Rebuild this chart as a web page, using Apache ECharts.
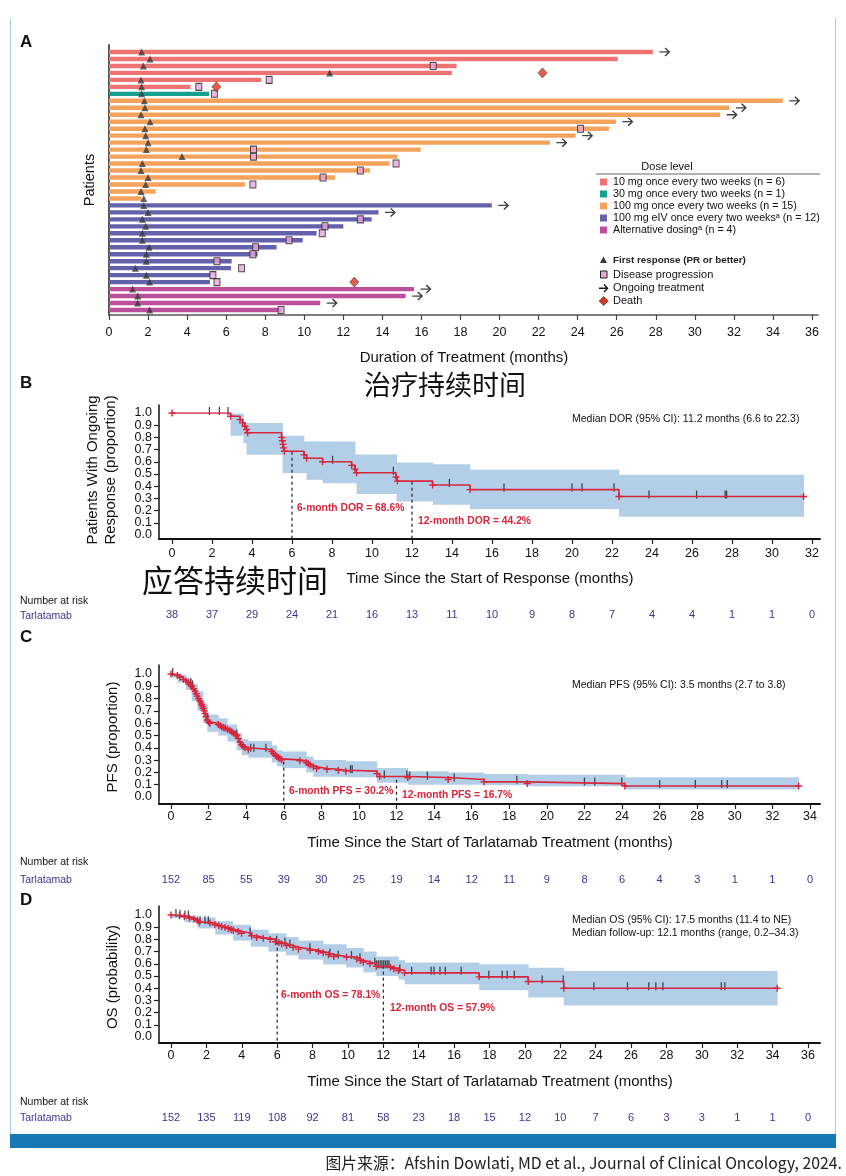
<!DOCTYPE html>
<html><head><meta charset="utf-8">
<script src="https://cdn.jsdelivr.net/npm/echarts@6/dist/echarts.min.js"></script>
<style>html,body{margin:0;padding:0;background:#fff}#c{width:846px;height:1176px}</style>
</head><body><div id="c"></div>
<script>
// ================= Panel A data =================
const doseLevels = ['10 mg once every two weeks (n = 6)','30 mg once every two weeks (n = 1)','100 mg once every two weeks (n = 15)','100 mg eIV once every two weeks\u1d43 (n = 12)','Alternative dosing\u1d43 (n = 4)'];
const doseColors = ['#ef7373','#16a08e','#f5a35c','#6461ab','#bb4f9c'];
const patientDose = [0,0,0,0,0,0,1,2,2,2,2,2,2,2,2,2,2,2,2,2,2,2,3,3,3,3,3,3,3,3,3,3,3,3,4,4,4,4];
const treatmentMonths = [27.85,26.05,17.8,17.56,7.8,4.17,5.12,34.5,31.77,31.3,25.96,25.6,23.9,22.58,15.96,14.78,14.37,13.36,11.57,6.96,2.39,1.64,19.6,13.8,13.45,12.0,10.63,9.92,8.58,7.61,6.28,6.25,5.22,5.17,15.62,15.19,10.82,8.84];
const firstResponseMonths = [1.67,2.1,1.76,11.3,1.64,1.67,1.67,1.81,1.84,1.64,2.1,1.84,1.88,2.0,1.91,3.74,1.71,1.64,2.0,1.88,1.64,1.78,1.78,2.0,1.71,1.88,1.71,1.71,2.05,1.91,1.91,1.35,1.91,2.08,1.21,1.47,1.47,2.08];
const progressionRows = [3,5,6,7,12,15,16,17,18,19,20,25,26,27,28,29,30,31,32,33,34,38];
const progressionMonths = [16.6,8.2,4.6,5.4,24.15,7.4,7.4,14.7,12.87,10.96,7.37,12.87,11.06,10.92,9.22,7.51,7.37,5.53,6.79,5.32,5.53,8.81];
const deathRows = [4,6,34];
const deathMonths = [22.2,5.5,12.56];
const ongoingRows = [1,8,9,10,11,13,14,23,24,35,36,37];

// ================= Panel B (DOR) =================
const dorT = [0,2.93,3.40,3.53,3.65,3.73,3.78,5.48,5.52,5.55,5.58,5.62,6.6,6.73,7.53,8.98,9.15,9.23,11.2,11.27,13.03,14.9,22.35,31.58];
const dorS = [1.0,0.973,0.946,0.919,0.892,0.865,0.838,0.80,0.772,0.743,0.714,0.686,0.657,0.629,0.60,0.571,0.54,0.51,0.476,0.442,0.41,0.372,0.315,0.315];
const dorCensor = [1.87,2.37,2.8,8.03,11.07,13.87,16.6,20.0,20.5,22.1,23.85,26.23,27.66,27.73];
const dorBandT  = [2.93,3.57,3.73,5.53,6.6,6.73,7.53,9.15,9.23,11.23,13.05,14.9,22.35,31.58];
const dorBandLo = [0.814,0.753,0.658,0.507,0.507,0.452,0.425,0.425,0.337,0.274,0.247,0.214,0.15,0.15];
const dorBandHi = [0.995,0.918,0.918,0.814,0.767,0.767,0.767,0.66,0.66,0.595,0.58,0.534,0.493,0.493];
const riskB = [38,37,29,24,21,16,13,11,10,9,8,7,4,4,1,1,0];

// ================= Panel C (PFS) =================
const pfsT = [0,0.34,0.48,0.66,0.8,0.92,1.02,1.1,1.2,1.28,1.34,1.40,1.47,1.54,1.6,1.63,1.68,1.72,1.77,1.81,1.86,1.93,2.0,2.07,2.52,2.61,2.7,2.8,2.88,3.0,3.14,3.23,3.32,3.42,3.5,3.58,3.67,3.76,3.85,3.94,4.11,5.36,5.45,5.55,5.63,5.72,5.8,5.9,6.86,7.2,7.3,7.4,7.57,7.75,8.3,8.9,9.3,10.95,11.1,12.6,14.75,16.65,18.95,24.15,33.4];
const pfsS = [1.0,0.987,0.974,0.955,0.942,0.93,0.915,0.9,0.88,0.86,0.84,0.82,0.80,0.78,0.765,0.75,0.735,0.72,0.70,0.68,0.655,0.625,0.61,0.60,0.59,0.58,0.57,0.565,0.56,0.55,0.54,0.53,0.52,0.51,0.50,0.475,0.445,0.425,0.41,0.40,0.385,0.37,0.355,0.34,0.33,0.32,0.31,0.302,0.295,0.28,0.27,0.26,0.245,0.232,0.225,0.218,0.21,0.19,0.167,0.158,0.142,0.123,0.109,0.09,0.09];
const pfsCensor = [0.09,1.05,1.15,1.95,3.5,4.24,4.41,5.05,9.55,9.64,11.35,12.55,12.7,13.64,15.07,18.4,22.0,22.55,23.99,26.0,27.9,29.3,29.6];
const pfsBandT  = [0,0.34,0.8,1.1,1.4,1.7,1.93,2.52,3.0,3.5,3.76,4.11,5.36,5.63,5.9,7.2,7.57,9.3,10.95,12.6,14.75,16.65,18.95,24.15,33.4];
const pfsBandLo = [0.97,0.93,0.87,0.78,0.70,0.60,0.53,0.50,0.45,0.38,0.34,0.32,0.28,0.25,0.235,0.20,0.165,0.16,0.115,0.10,0.10,0.095,0.088,0.06,0.06];
const pfsBandHi = [1.0,0.995,0.97,0.92,0.86,0.76,0.67,0.64,0.59,0.52,0.47,0.455,0.42,0.38,0.37,0.33,0.30,0.29,0.235,0.21,0.20,0.186,0.18,0.16,0.16];
const riskC = [152,85,55,39,30,25,19,14,12,11,9,8,6,4,3,1,1,0];

// ================= Panel D (OS) =================
const osT = [0,0.48,0.75,1.04,1.3,1.5,1.6,2.2,2.48,2.7,2.86,3.05,3.24,3.4,3.52,3.8,3.99,4.56,4.84,5.22,5.6,5.9,6.1,6.25,6.53,6.9,7.2,7.86,8.33,8.6,8.9,9.2,9.92,10.5,10.7,10.87,11.24,11.6,12.4,12.6,12.85,13.2,17.42,20.19,22.2,34.26];
const osS = [1.0,0.993,0.987,0.975,0.965,0.955,0.94,0.935,0.92,0.912,0.905,0.897,0.89,0.882,0.875,0.865,0.85,0.83,0.815,0.81,0.80,0.781,0.774,0.765,0.75,0.735,0.72,0.71,0.70,0.69,0.675,0.66,0.655,0.64,0.628,0.615,0.60,0.579,0.572,0.56,0.545,0.526,0.493,0.455,0.40,0.40];
const osCensor = [0.28,0.51,0.79,0.98,1.64,1.92,2.11,4.47,5.97,6.44,6.72,7.85,8.98,9.45,10.2,10.68,11.52,11.62,11.72,11.82,11.92,12.02,12.12,12.22,12.32,12.93,13.6,14.7,14.86,15.2,15.5,16.4,17.96,18.72,19.0,19.4,20.98,22.17,23.9,25.8,27.0,27.4,27.8,31.1,31.3];
const osBandT  = [0,0.75,1.5,2.5,3.5,4.5,5.5,6.5,7.2,8.6,9.9,10.87,11.6,12.85,13.2,17.42,20.19,22.2,34.26];
const osBandLo = [0.975,0.94,0.89,0.84,0.79,0.74,0.70,0.67,0.635,0.595,0.57,0.53,0.50,0.47,0.433,0.383,0.323,0.258,0.258];
const osBandHi = [1.0,0.995,0.98,0.95,0.92,0.88,0.85,0.82,0.79,0.76,0.73,0.70,0.66,0.63,0.61,0.597,0.567,0.54,0.54];
const riskD = [152,135,119,108,92,81,58,23,18,15,12,10,7,6,3,3,1,1,0];

// ================= rendering =================
const FONT = '"Liberation Sans", Arial, sans-serif';
const CJK = '"Noto Sans CJK SC", sans-serif';
const RED = '#d7263d';
const BAND = '#b3cfe7';
const RISK = '#3b3596';
const PLUS = 'path://M4,0H6V4H10V6H6V10H4V6H0V4H4Z';
const ARROW = 'path://M0,4.3L8.6,4.3L5.4,1.1L6.5,0L11.5,5L6.5,10L5.4,8.9L8.6,5.7L0,5.7Z';

function stepAt(T, S, t) { let v = S[0]; for (let i = 0; i < T.length; i++) if (T[i] <= t) v = S[i]; return v; }

const grids = [
  {left:109, right:28, top:45, bottom:861},     // 0 A frame
  {left:109, right:34, top:48.5, bottom:862.5}, // 1 A data
  {left:159, right:26, top:405, bottom:637},    // 2 B frame
  {left:172, right:34, top:413, bottom:641},    // 3 B data
  {left:159, right:26, top:665, bottom:372},    // 4 C frame
  {left:171, right:36, top:674, bottom:379},    // 5 C data
  {left:159, right:26, top:906, bottom:133},    // 6 D frame
  {left:171, right:38, top:915, bottom:139}     // 7 D data
];

function frameX(gi, color, w) { return {type:'value', gridIndex:gi, min:0, max:1, axisLine:{show:true, onZero:false, lineStyle:{color, width:w}}, axisTick:{show:false}, axisLabel:{show:false}, splitLine:{show:false}}; }
function frameY(gi, color, w) { return {type:'value', gridIndex:gi, min:0, max:1, position:'left', axisLine:{show:true, onZero:false, lineStyle:{color, width:w}}, axisTick:{show:false}, axisLabel:{show:false}, splitLine:{show:false}}; }
function dataX(gi, max, offset, margin) {
  return {type:'value', gridIndex:gi, min:0, max, interval:2, offset, position:'bottom',
    axisLine:{show:false, onZero:false}, axisTick:{show:true, length:5, lineStyle:{color:'#222', width:1.2}},
    axisLabel:{fontSize:12.5, color:'#111', margin, fontFamily:FONT, showMinLabel:true, showMaxLabel:true}, splitLine:{show:false}};
}
function riskX(gi, max, risk, margin) {
  return {type:'value', gridIndex:gi, min:0, max, interval:2, offset:70, position:'bottom',
    axisLine:{show:false, onZero:false}, axisTick:{show:false},
    axisLabel:{fontSize:11, color:RISK, margin, fontFamily:FONT, showMinLabel:true, showMaxLabel:true,
      formatter: v => { const r = risk[Math.round(v/2)]; return r === undefined ? '' : String(r); }},
    splitLine:{show:false}};
}
// inner y labels 0.1..0.9 with all ticks
function dataY(gi, offset) {
  return {type:'value', gridIndex:gi, min:0, max:1, interval:0.1, offset, position:'left',
    axisLine:{show:false, onZero:false}, axisTick:{show:true, length:5, lineStyle:{color:'#222', width:1.2}},
    axisLabel:{fontSize:12.5, color:'#111', margin:7, fontFamily:FONT, showMinLabel:false, showMaxLabel:false,
      formatter: v => v.toFixed(1)}, splitLine:{show:false}};
}
// end labels 0.0 and 1.0
function endY(gi, offset) {
  return {type:'value', gridIndex:gi, min:0, max:1, interval:1, offset, position:'left',
    axisLine:{show:false, onZero:false}, axisTick:{show:false},
    axisLabel:{fontSize:12.5, color:'#111', margin:7, fontFamily:FONT, showMinLabel:true, showMaxLabel:true,
      formatter: v => v.toFixed(1)}, splitLine:{show:false}};
}

const xAxes = [
  frameX(0,'#555',1.5),
  {type:'value', gridIndex:1, min:0, max:36, interval:2, offset:1.5, position:'bottom',
    axisLine:{show:false, onZero:false}, axisTick:{show:true, length:5, lineStyle:{color:'#444', width:1.2}},
    axisLabel:{fontSize:12.5, color:'#111', margin:11, fontFamily:FONT, showMinLabel:true, showMaxLabel:true}, splitLine:{show:false}},
  frameX(2,'#111',2), dataX(3,32,4,8),
  frameX(4,'#111',2), dataX(5,34,7,6),
  frameX(6,'#111',2), dataX(7,36,6,6),
  riskX(3,32,riskB,4.5), riskX(5,34,riskC,7), riskX(7,36,riskD,5)
];
const yAxes = [
  frameY(0,'#555',2),
  {type:'value', gridIndex:1, min:0.5, max:38.5, inverse:true, position:'left', axisLine:{show:false, onZero:false}, axisTick:{show:false}, axisLabel:{show:false}, splitLine:{show:false}},
  frameY(2,'#111',1.5), dataY(3,13),
  frameY(4,'#111',1.5), dataY(5,12),
  frameY(6,'#111',1.5), dataY(7,12),
  endY(3,13), endY(5,12), endY(7,12)
];

const series = [];
// ---- Panel A ----
series.push({type:'custom', xAxisIndex:1, yAxisIndex:1, z:1, silent:true,
  data: treatmentMonths.map((m,i)=>[m, i+1, patientDose[i]]),
  renderItem:(p, api) => {
    const a = api.coord([0, api.value(1)]), b = api.coord([api.value(0), api.value(1)]);
    return {type:'rect', shape:{x:a[0], y:a[1]-2.2, width:b[0]-a[0], height:4.4}, style:{fill:doseColors[api.value(2)]}};
  }});
series.push({type:'scatter', xAxisIndex:1, yAxisIndex:1, z:3, silent:true, symbol:'rect', symbolSize:[6,7],
  itemStyle:{color:'#e7a6d8', borderColor:'#222', borderWidth:1},
  data: progressionRows.map((r,i)=>[progressionMonths[i], r])});
series.push({type:'scatter', xAxisIndex:1, yAxisIndex:1, z:4, silent:true, symbol:'triangle', symbolSize:[7,7],
  itemStyle:{color:'#3a3a3a'}, data: firstResponseMonths.map((m,i)=>[m, i+1])});
series.push({type:'scatter', xAxisIndex:1, yAxisIndex:1, z:5, silent:true, symbol:'diamond', symbolSize:[9,10],
  itemStyle:{color:'#e2341d', borderColor:'#444', borderWidth:0.8}, data: deathRows.map((r,i)=>[deathMonths[i], r])});
series.push({type:'scatter', xAxisIndex:1, yAxisIndex:1, z:5, silent:true, symbol:ARROW, symbolSize:[11,9], symbolOffset:[12,0],
  itemStyle:{color:'#111'}, data: ongoingRows.map(r=>[treatmentMonths[r-1], r])});

// ---- KM panels ----
function km(ax, T, S, censor, bT, bLo, bHi) {
  series.push({type:'custom', xAxisIndex:ax, yAxisIndex:ax, z:1, silent:true,
    data: bT.slice(0,-1).map((t,i)=>[t, bLo[i], bHi[i], bT[i+1]]),
    renderItem:(p, api) => {
      const a = api.coord([api.value(0), api.value(2)]), b = api.coord([api.value(3), api.value(1)]);
      return {type:'rect', shape:{x:a[0], y:a[1], width:b[0]-a[0]+0.4, height:b[1]-a[1]}, style:{fill:BAND}};
    }});
  [6,12].forEach(m => {
    series.push({type:'line', xAxisIndex:ax, yAxisIndex:ax, z:2, silent:true, clip:false, symbol:'none',
      lineStyle:{color:'#222', width:1.2, type:[3,3]}, data:[[m,-0.03],[m, stepAt(T,S,m)]]});
  });
  series.push({type:'scatter', xAxisIndex:ax, yAxisIndex:ax, z:3, silent:true, symbol:'rect', symbolSize:[1.3,8], symbolOffset:[0,-2],
    itemStyle:{color:'#222'}, data: censor.map(t=>[t, stepAt(T,S,t)])});
  series.push({type:'line', xAxisIndex:ax, yAxisIndex:ax, z:4, silent:true, step:'end', symbol:PLUS, symbolSize:7, showSymbol:true,
    lineStyle:{color:RED, width:1.6}, itemStyle:{color:RED}, data: T.map((t,i)=>[t, S[i]])});
}
km(3, dorT, dorS, dorCensor, dorBandT, dorBandLo, dorBandHi);
km(5, pfsT, pfsS, pfsCensor, pfsBandT, pfsBandLo, pfsBandHi);
km(7, osT, osS, osCensor, osBandT, osBandLo, osBandHi);

// ---- texts & decorations ----
function T(text, x, y, o = {}) {
  return {type:'text', x, y, rotation:o.rot || 0, z:100, silent:true,
    style:{text, fontSize:o.size || 12, fontFamily:o.family || FONT, fontWeight:o.weight || 'normal', fill:o.color || '#111',
      align:o.align || 'left', verticalAlign:'middle', textAlign:o.align || 'left', textVerticalAlign:'middle'}};
}
const g = [];
g.push({type:'line', shape:{x1:10.5, y1:18, x2:10.5, y2:1134}, style:{stroke:'#a9cfe9', lineWidth:1}});
g.push({type:'line', shape:{x1:835.5, y1:18, x2:835.5, y2:1134}, style:{stroke:'#a9cfe9', lineWidth:1}});
g.push({type:'rect', shape:{x:10, y:1134, width:826, height:14}, style:{fill:'#1679b6'}});
g.push(T('图片来源：Afshin Dowlati, MD et al., Journal of Clinical Oncology, 2024.', 842, 1163, {size:15.8, family:CJK, align:'right', color:'#222'}));
// panel letters
[['A',42],['B',383],['C',637],['D',900]].forEach(([l,y]) => g.push(T(l, 20, y, {size:17, weight:'bold'})));
// Panel A texts
g.push(T('Patients', 90, 180, {size:14.5, rot:Math.PI/2, align:'center'}));
g.push(T('Duration of Treatment (months)', 464, 358, {size:15, align:'center'}));
g.push(T('Dose level', 667, 167, {size:11, align:'center'}));
g.push({type:'line', shape:{x1:596, y1:174, x2:820, y2:174}, style:{stroke:'#666', lineWidth:1}});
const legY = [182, 194, 206, 218, 230];
doseLevels.forEach((d,i) => {
  g.push({type:'rect', shape:{x:600, y:legY[i]-3.5, width:7, height:7}, style:{fill:doseColors[i]}});
  g.push(T(d, 613, legY[i], {size:10.7}));
});
g.push({type:'polygon', shape:{points:[[603.5,256.5],[607,263],[600,263]]}, style:{fill:'#3a3a3a'}});
g.push(T('First response (PR or better)', 613, 260, {size:9.8, weight:'bold', color:'#222'}));
g.push({type:'rect', shape:{x:600.5, y:271, width:6.5, height:7}, style:{fill:'#e7a6d8', stroke:'#222', lineWidth:1}});
g.push(T('Disease progression', 613, 274.5, {size:11}));
g.push({type:'polygon', shape:{points:[[599,287.5],[606,287.5],[603.5,285],[604.5,284],[608.5,288.2],[604.5,292.4],[603.5,291.4],[606,288.9],[599,288.9]]}, style:{fill:'#111'}});
g.push(T('Ongoing treatment', 613, 288.3, {size:11}));
g.push({type:'polygon', shape:{points:[[603.7,296.5],[608.2,301],[603.7,305.5],[599.2,301]]}, style:{fill:'#e2341d', stroke:'#444', lineWidth:0.8}});
g.push(T('Death', 613, 301, {size:11}));
// Panel B texts
g.push(T('治疗持续时间', 445, 385, {size:27, family:CJK, align:'center'}));
g.push(T('Patients With Ongoing', 93, 470, {size:15, rot:Math.PI/2, align:'center'}));
g.push(T('Response (proportion)', 111, 470, {size:15, rot:Math.PI/2, align:'center'}));
g.push(T('Median DOR (95% CI): 11.2 months (6.6 to 22.3)', 572, 419, {size:10.5}));
g.push(T('6-month DOR = 68.6%', 297, 508, {size:10.3, weight:'bold', color:RED}));
g.push(T('12-month DOR = 44.2%', 418, 521.5, {size:10.3, weight:'bold', color:RED}));
g.push(T('Time Since the Start of Response (months)', 490, 579, {size:15, align:'center'}));
g.push(T('应答持续时间', 235, 580, {size:31, family:CJK, align:'center'}));
g.push(T('Number at risk', 20, 601, {size:10.5}));
g.push(T('Tarlatamab', 20, 616, {size:10.5, color:RISK}));
// Panel C texts
g.push(T('PFS (proportion)', 113, 737, {size:15, rot:Math.PI/2, align:'center'}));
g.push(T('Median PFS (95% CI): 3.5 months (2.7 to 3.8)', 572, 685, {size:10.5}));
g.push(T('6-month PFS = 30.2%', 289, 791.5, {size:10.3, weight:'bold', color:RED}));
g.push(T('12-month PFS = 16.7%', 402, 795, {size:10.3, weight:'bold', color:RED}));
g.push(T('Time Since the Start of Tarlatamab Treatment (months)', 490, 843, {size:15, align:'center'}));
g.push(T('Number at risk', 20, 862, {size:10.5}));
g.push(T('Tarlatamab', 20, 880, {size:10.5, color:RISK}));
// Panel D texts
g.push(T('OS (probability)', 113, 977, {size:15, rot:Math.PI/2, align:'center'}));
g.push(T('Median OS (95% CI): 17.5 months (11.4 to NE)', 572, 920, {size:10.5}));
g.push(T('Median follow-up: 12.1 months (range, 0.2\u201334.3)', 572, 933.5, {size:10.5}));
g.push(T('6-month OS = 78.1%', 281, 995.5, {size:10.3, weight:'bold', color:RED}));
g.push(T('12-month OS = 57.9%', 390, 1008.5, {size:10.3, weight:'bold', color:RED}));
g.push(T('Time Since the Start of Tarlatamab Treatment (months)', 490, 1082, {size:15, align:'center'}));
g.push(T('Number at risk', 20, 1102, {size:10.5}));
g.push(T('Tarlatamab', 20, 1118, {size:10.5, color:RISK}));

const chart = echarts.init(document.getElementById('c'), null, {renderer:'canvas', width:846, height:1176});
chart.setOption({
  animation:false,
  backgroundColor:'#fff',
  textStyle:{fontFamily:FONT},
  grid: grids,
  xAxis: xAxes,
  yAxis: yAxes,
  series,
  graphic:{elements:g}
});
</script></body></html>
